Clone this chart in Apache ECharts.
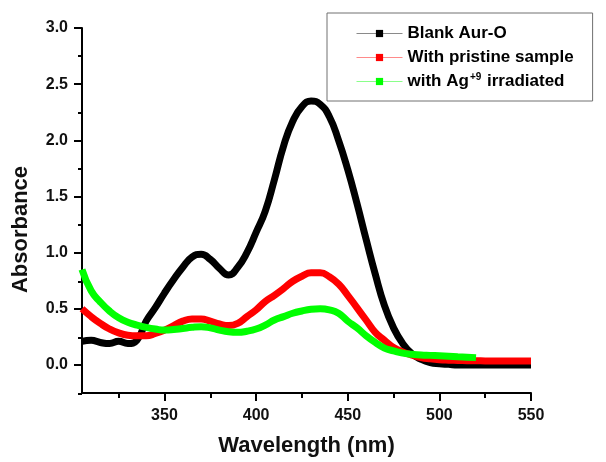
<!DOCTYPE html>
<html>
<head>
<meta charset="utf-8">
<script src="https://cdn.jsdelivr.net/npm/echarts@6/dist/echarts.min.js"></script>
<style>
  html, body { margin: 0; padding: 0; background: #fff; }
  #chart { width: 606px; height: 462px; }
</style>
</head>
<body>
<div id="chart"></div>
<script>
// Wavelength grid (nm) shared by the spectra
const wavelength = [305, 310, 315, 320, 325, 330, 335, 340, 345, 350, 355, 360, 365, 370, 375, 380, 385, 390, 395,
  400, 405, 410, 415, 420, 425, 430, 435, 440, 445, 450, 455, 460, 465, 470, 475, 480, 485, 490, 495,
  500, 505, 510, 515, 520, 525, 530, 535, 540, 545, 550];

// Absorbance of the blank Auramine-O solution
const blankAurO = [0.21, 0.22, 0.20, 0.19, 0.21, 0.19, 0.22, 0.39, 0.51, 0.64, 0.76, 0.87, 0.96, 0.985, 0.94, 0.86, 0.80, 0.87, 1.00,
  1.18, 1.37, 1.65, 1.95, 2.17, 2.30, 2.35, 2.32, 2.21, 2.00, 1.74, 1.44, 1.12, 0.81, 0.53, 0.33, 0.19, 0.10, 0.05, 0.02,
  0.01, 0.005, 0, 0, 0, 0, 0, 0, 0, 0, 0];

// Absorbance with the pristine sample
const pristine = [0.50, 0.43, 0.37, 0.32, 0.285, 0.265, 0.26, 0.26, 0.28, 0.31, 0.35, 0.39, 0.41, 0.41, 0.39, 0.365, 0.35, 0.37, 0.43,
  0.49, 0.565, 0.62, 0.68, 0.745, 0.79, 0.82, 0.82, 0.785, 0.72, 0.62, 0.51, 0.40, 0.29, 0.22, 0.155, 0.115, 0.088, 0.066, 0.054,
  0.046, 0.042, 0.040, 0.038, 0.037, 0.036, 0.035, 0.035, 0.035, 0.035, 0.035];

// Absorbance with the Ag+9 irradiated sample (305 - 520 nm)
const agIrradiated = [0.85, 0.66, 0.56, 0.48, 0.42, 0.38, 0.355, 0.335, 0.32, 0.31, 0.315, 0.325, 0.335, 0.34, 0.33, 0.31, 0.295, 0.29, 0.30,
  0.32, 0.355, 0.40, 0.43, 0.46, 0.48, 0.495, 0.50, 0.49, 0.46, 0.39, 0.33, 0.26, 0.20, 0.15, 0.125, 0.105, 0.095, 0.088, 0.085,
  0.082, 0.078, 0.073, 0.069, 0.065];

const seriesNames = ['Blank Aur-O', 'With pristine sample', 'with Ag+9 irradiated'];
const seriesColors = ['#000000', '#ff0000', '#00ff00'];
const legendLineColors = ['#8a8a8a', '#ff8a8a', '#8aff8a'];

const xMajorTicks = [350, 400, 450, 500, 550];
const xMinorTicks = [325, 375, 425, 475, 525];
const yMajorTicks = [0, 0.5, 1.0, 1.5, 2.0, 2.5, 3.0];
const yMinorTicks = [-0.25, 0.25, 0.75, 1.25, 1.75, 2.25, 2.75];

const FONT = "'Liberation Sans', Arial, sans-serif";

// plot box in pixels (the second grid overlays it and only carries the minor ticks)
const GRID = { left: 82, right: 75, top: 28, bottom: 68 };

function pairs(values) {
  return values.map((v, i) => [wavelength[i], v]);
}

const chart = echarts.init(document.getElementById('chart'), null, { renderer: 'canvas' });

const axisLineStyle = { color: '#000', width: 2 };
const labelStyle = { color: '#111', fontFamily: FONT, fontWeight: 'bold', fontSize: 16 };

chart.setOption({
  animation: false,
  backgroundColor: '#fff',
  grid: [Object.assign({}, GRID), Object.assign({}, GRID)],
  legend: {
    orient: 'vertical',
    left: 327,
    top: 13,
    padding: [11, 19, 10, 29],
    itemWidth: 46,
    itemHeight: 9,
    itemGap: 5,
    borderColor: '#707070',
    borderWidth: 1,
    textStyle: {
      color: '#000', fontFamily: FONT, fontWeight: 'bold', fontSize: 17, lineHeight: 19,
      rich: {
        b: { color: '#000', fontFamily: FONT, fontWeight: 'bold', fontSize: 17, lineHeight: 19 },
        sup: { color: '#000', fontFamily: FONT, fontWeight: 'bold', fontSize: 10, lineHeight: 19, verticalAlign: 'top', padding: [0, 1, 8, 1] }
      }
    },
    formatter: function (name) {
      if (name === seriesNames[2]) {
        return '{b|with Ag}{sup|+9}{b| irradiated}';
      }
      return name;
    },
    data: seriesNames.map((n, i) => ({
      name: n,
      lineStyle: { color: legendLineColors[i], width: 1 }
    }))
  },
  xAxis: [
    {
      type: 'value', gridIndex: 0, min: 305, max: 550, position: 'bottom',
      name: 'Wavelength (nm)', nameLocation: 'middle', nameGap: 42,
      nameTextStyle: { color: '#111', fontFamily: FONT, fontWeight: 'bold', fontSize: 22 },
      axisLine: { show: true, onZero: false, lineStyle: axisLineStyle },
      axisTick: { show: true, inside: false, length: 8, lineStyle: { color: '#000', width: 2 }, customValues: xMajorTicks },
      axisLabel: Object.assign({ margin: 15, customValues: xMajorTicks }, labelStyle),
      splitLine: { show: false }
    },
    {
      type: 'value', gridIndex: 1, min: 305, max: 550, position: 'bottom',
      axisLine: { show: false, onZero: false },
      axisTick: { show: true, inside: false, length: 4, lineStyle: { color: '#000', width: 2 }, customValues: xMinorTicks },
      axisLabel: { show: false },
      splitLine: { show: false }
    }
  ],
  yAxis: [
    {
      type: 'value', gridIndex: 0, min: -0.25, max: 3.0, position: 'left',
      name: 'Absorbance', nameLocation: 'middle', nameGap: 50, nameRotate: 90,
      nameTextStyle: { color: '#111', fontFamily: FONT, fontWeight: 'bold', fontSize: 22, padding: [0, 38, 0, 0] },
      axisLine: { show: true, onZero: false, lineStyle: axisLineStyle },
      axisTick: { show: true, inside: false, length: 8, lineStyle: { color: '#000', width: 2 }, customValues: yMajorTicks },
      axisLabel: Object.assign({ margin: 14, customValues: yMajorTicks, formatter: v => v.toFixed(1) }, labelStyle),
      splitLine: { show: false }
    },
    {
      type: 'value', gridIndex: 1, min: -0.25, max: 3.0, position: 'left',
      axisLine: { show: false, onZero: false },
      axisTick: { show: true, inside: false, length: 4, lineStyle: { color: '#000', width: 2 }, customValues: yMinorTicks },
      axisLabel: { show: false },
      splitLine: { show: false }
    }
  ],
  series: [blankAurO, pristine, agIrradiated].map((vals, i) => ({
    name: seriesNames[i],
    type: 'line',
    xAxisIndex: 0,
    yAxisIndex: 0,
    data: pairs(vals),
    smooth: 0.5,
    symbol: 'rect',
    showSymbol: false,
    itemStyle: { color: seriesColors[i] },
    lineStyle: { color: seriesColors[i], width: 7 },
    emphasis: { disabled: true }
  }))
});
</script>
</body>
</html>
